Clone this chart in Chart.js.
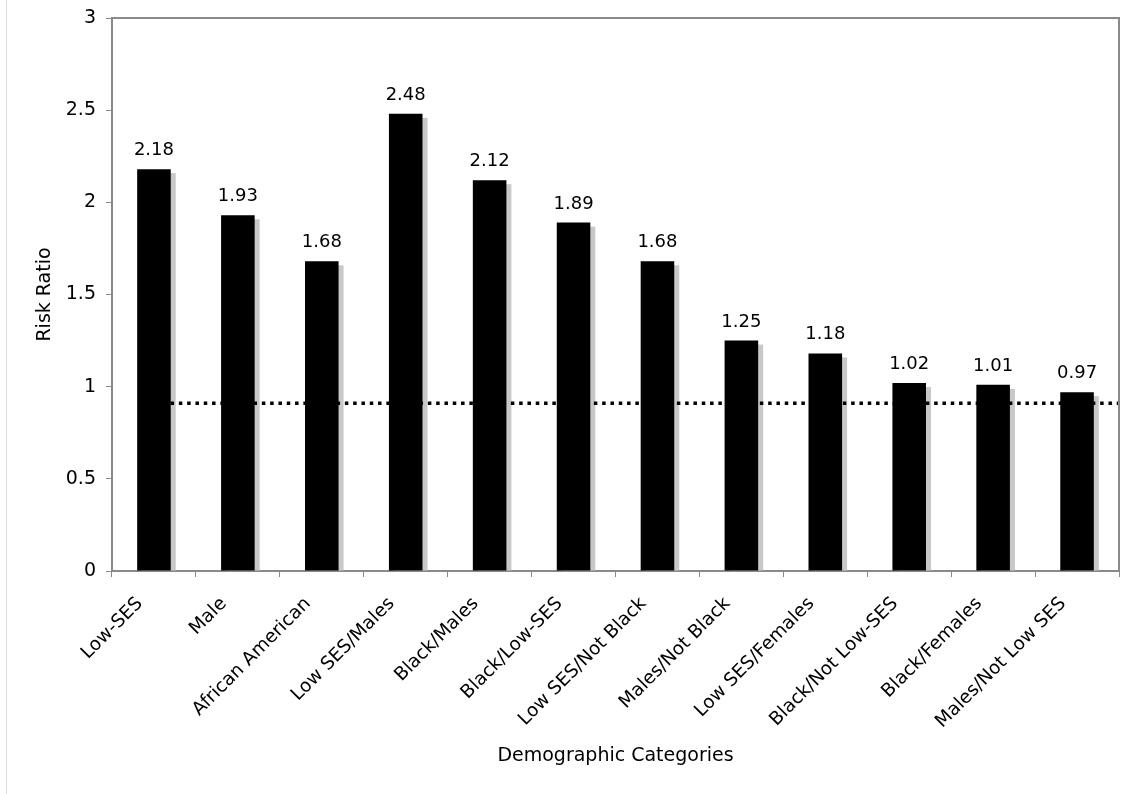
<!DOCTYPE html>
<html>
<head>
<meta charset="utf-8">
<script src="https://cdn.jsdelivr.net/npm/chart.js@4/dist/chart.umd.min.js"></script>
<style>
  body { margin: 0; background: #fff; }
  #wrap { position: relative; width: 1138px; height: 794px; }
  #edge { position: absolute; left: 6px; top: 0; width: 1px; height: 794px; background: #dcdcdc; }
</style>
</head>
<body>
<div id="wrap">
  <div id="edge"></div>
  <canvas id="riskChart" width="1138" height="794"></canvas>
</div>
<script>
// data
const categories = [
    "Low-SES", "Male", "African American", "Low SES/Males", "Black/Males",
    "Black/Low-SES", "Low SES/Not Black", "Males/Not Black", "Low SES/Females",
    "Black/Not Low-SES", "Black/Females", "Males/Not Low SES"
];
const riskRatios = [2.18, 1.93, 1.68, 2.48, 2.12, 1.89, 1.68, 1.25, 1.18, 1.02, 1.01, 0.97];
const yTickLabels = ["0", "0.5", "1", "1.5", "2", "2.5", "3"];
const referenceLevel = 0.91;

const fontFamily = "'DejaVu Sans', Verdana, sans-serif";
const axisGrey = "#8a8a8a";

// shadow behind bars, dotted reference line, value labels, plot frame
const barExtras = {
    id: "barExtras",
    beforeDatasetsDraw(chart) {
        const ctx = chart.ctx;
        const area = chart.chartArea;
        const meta = chart.getDatasetMeta(0);
        ctx.save();
        ctx.fillStyle = "#c8c8c8";
        meta.data.forEach(bar => {
            const w = bar.width;
            ctx.fillRect(bar.x - w / 2 + 5, bar.y + 4, w, bar.base - bar.y - 4);
        });

        const y = chart.scales.y.getPixelForValue(referenceLevel);
        const x0 = chart.scales.x.getPixelForValue(0);
        ctx.strokeStyle = "#000";
        ctx.lineWidth = 3.5;
        ctx.setLineDash([3.5, 4.8]);
        ctx.beginPath();
        ctx.moveTo(x0, y);
        ctx.lineTo(area.right, y);
        ctx.stroke();
        ctx.restore();
    },
    afterDatasetsDraw(chart) {
        const ctx = chart.ctx;
        const meta = chart.getDatasetMeta(0);
        ctx.save();
        ctx.fillStyle = "#000";
        ctx.font = "18px " + fontFamily;
        ctx.textAlign = "center";
        ctx.textBaseline = "alphabetic";
        meta.data.forEach((bar, i) => {
            ctx.fillText(riskRatios[i].toFixed(2), bar.x, bar.y - 14);
        });
        ctx.restore();
    },
    afterDraw(chart) {
        const ctx = chart.ctx;
        const a = chart.chartArea;
        ctx.save();
        ctx.strokeStyle = axisGrey;
        ctx.lineWidth = 2;
        ctx.beginPath();
        ctx.moveTo(a.left, a.top);
        ctx.lineTo(a.right, a.top);
        ctx.lineTo(a.right, a.bottom);
        ctx.stroke();
        ctx.restore();
    }
};

const ctx = document.getElementById("riskChart").getContext("2d");
new Chart(ctx, {
    type: "bar",
    data: {
        labels: categories,
        datasets: [{
            data: riskRatios,
            backgroundColor: "#000",
            borderWidth: 0,
            categoryPercentage: 1,
            barPercentage: 0.4
        }]
    },
    options: {
        responsive: false,
        animation: false,
        layout: { padding: { left: 0, top: 18, right: 19, bottom: 0 } },
        plugins: {
            legend: { display: false },
            tooltip: { enabled: false }
        },
        scales: {
            x: {
                afterFit: scale => { scale.height = 223; },
                grid: { drawOnChartArea: false, color: axisGrey, tickLength: 6 },
                border: { color: axisGrey, width: 2 },
                ticks: {
                    autoSkip: false,
                    minRotation: 45,
                    maxRotation: 45,
                    padding: 16,
                    labelOffset: -14,
                    color: "#000",
                    font: { family: fontFamily, size: 18.5 }
                },
                title: {
                    display: true,
                    text: "Demographic Categories",
                    color: "#000",
                    font: { family: fontFamily, size: 19 },
                    padding: { top: 0, bottom: 27 }
                }
            },
            y: {
                min: 0,
                max: 3,
                afterFit: scale => {
                    scale.width = 112;
                    scale.paddingTop = 0;
                },
                grid: { drawOnChartArea: false, color: axisGrey, tickLength: 6 },
                border: { color: axisGrey, width: 2 },
                ticks: {
                    stepSize: 0.5,
                    padding: 10,
                    color: "#000",
                    font: { family: fontFamily, size: 19 },
                    callback: (value, index) => yTickLabels[index]
                },
                title: {
                    display: true,
                    text: "Risk Ratio",
                    color: "#000",
                    font: { family: fontFamily, size: 19 },
                    padding: { top: 34, bottom: 0 }
                }
            }
        }
    },
    plugins: [barExtras]
});
</script>
</body>
</html>
